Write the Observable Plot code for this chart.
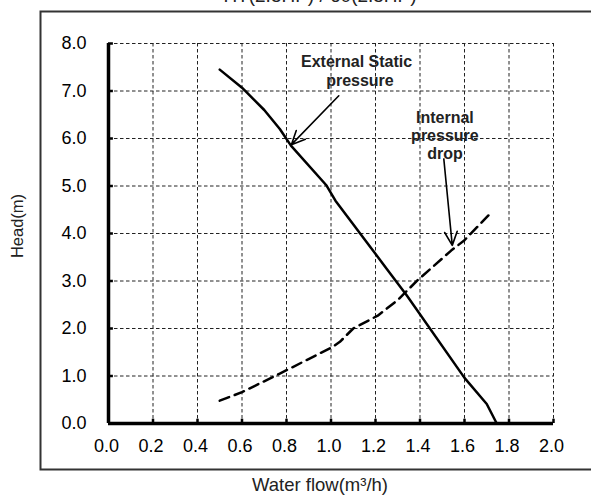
<!DOCTYPE html>
<html>
<head>
<meta charset="utf-8">
<script src="https://cdn.jsdelivr.net/npm/d3@7"></script>
<script src="https://cdn.jsdelivr.net/npm/@observablehq/plot@0.6"></script>
<style>
  html, body { margin: 0; padding: 0; background: #fff; }
  #chart svg { display: block; overflow: visible; }
</style>
</head>
<body>
<div id="chart"></div>
<script>
const title = "HT(2.5HP) / 60(2.5HP)";
const xLabel = "Water flow(m³/h)";
const yLabel = "Head(m)";

const xTicks = [0.0, 0.2, 0.4, 0.6, 0.8, 1.0, 1.2, 1.4, 1.6, 1.8, 2.0];
const yTicks = [0, 1, 2, 3, 4, 5, 6, 7, 8];

// External static pressure (solid)
const extFlow = [0.50, 0.60, 0.70, 0.77, 0.82, 0.98, 1.02, 1.25, 1.34, 1.60, 1.70, 1.745];
const extHead = [7.45, 7.07, 6.60, 6.20, 5.85, 5.01, 4.69, 3.26, 2.70, 0.96, 0.41, 0.00];

// Internal pressure drop (dashed)
const intFlow = [0.50, 0.60, 0.77, 1.01, 1.04, 1.10, 1.21, 1.30, 1.39, 1.54, 1.60, 1.72];
const intHead = [0.48, 0.66, 1.05, 1.62, 1.72, 2.00, 2.27, 2.60, 3.02, 3.64, 3.86, 4.44];

// annotations
const labelText = ["External Static", "pressure", "Internal", "pressure", "drop"];
const labelX = [1.115, 1.13, 1.512, 1.512, 1.512];
const labelY = [7.61, 7.21, 6.44, 6.05, 5.67];
const arrowFrom = [[1.035, 6.90], [1.507, 5.57]];
const arrowTo = [[0.822, 5.87], [1.545, 3.75]];

const ext = extFlow.map((x, i) => ({x, y: extHead[i]}));
const int = intFlow.map((x, i) => ({x, y: intHead[i]}));
const labels = labelText.map((t, i) => ({t, x: labelX[i], y: labelY[i]}));
const arrows = arrowFrom.map((f, i) => ({x1: f[0], y1: f[1], x2: arrowTo[i][0], y2: arrowTo[i][1]}));

const font = "Liberation Sans, Arial, Helvetica, sans-serif";

const plot = Plot.plot({
  width: 591,
  height: 497,
  marginLeft: 108,
  marginRight: 38,
  marginTop: 43,
  marginBottom: 74,
  style: {fontFamily: font, fontSize: "18px", color: "#000", background: "transparent"},
  x: {domain: [0, 2], ticks: xTicks},
  y: {domain: [0, 8], ticks: yTicks},
  marks: [
    Plot.gridX(xTicks, {stroke: "#222", strokeOpacity: 1, strokeWidth: 1, strokeDasharray: "3.5,2.5"}),
    Plot.gridY(yTicks, {stroke: "#222", strokeOpacity: 1, strokeWidth: 1, strokeDasharray: "3.5,2.5"}),
    Plot.axisX(xTicks, {tickSize: 0, tickPadding: 16, tickFormat: d => d.toFixed(1), fontSize: 18, dx: -2, label: null}),
    Plot.axisY(yTicks, {tickSize: 0, tickPadding: 22, tickFormat: d => d.toFixed(1), fontSize: 18, label: null}),
    Plot.ruleY(yTicks, {y: d => d, x1: 0, x2: 0.022, stroke: "#000", strokeWidth: 2.5}),
    Plot.ruleX(xTicks, {x: d => d, y1: 0, y2: 0.09, stroke: "#000", strokeWidth: 2.5}),
    Plot.ruleX([0], {y1: 0, y2: 8, stroke: "#000", strokeWidth: 3.5}),
    Plot.ruleY([0], {x1: 0, x2: 2, stroke: "#000", strokeWidth: 3.5}),
    Plot.line(ext, {x: "x", y: "y", stroke: "#000", strokeWidth: 2.5}),
    Plot.line(int, {x: "x", y: "y", stroke: "#000", strokeWidth: 2.5, strokeDasharray: "10,6"}),
    Plot.text(labels, {x: "x", y: "y", text: "t", fontWeight: "bold", fontSize: 16, fill: "#222"}),
    Plot.arrow(arrows, {x1: "x1", y1: "y1", x2: "x2", y2: "y2", stroke: "#000", strokeWidth: 1.6, headLength: 14, headAngle: 50})
  ]
});

const svg = d3.select(plot);
// outer frame (top, left, bottom borders; right edge runs off the picture)
svg.append("path")
  .attr("d", "M600,11.5H40.5V469.5H600")
  .attr("fill", "none").attr("stroke", "#333").attr("stroke-width", 2);
svg.append("text")
  .attr("x", 320).attr("y", 2)
  .attr("text-anchor", "middle")
  .attr("font-family", font).attr("font-size", 19).attr("fill", "#222")
  .text(title);
svg.append("text")
  .attr("x", 320).attr("y", 491)
  .attr("text-anchor", "middle")
  .attr("font-family", font).attr("font-size", 18.5).attr("fill", "#222")
  .text(xLabel);
svg.append("text")
  .attr("transform", "translate(23,226) rotate(-90)")
  .attr("text-anchor", "middle")
  .attr("font-family", font).attr("font-size", 16.5).attr("fill", "#222")
  .text(yLabel);

document.getElementById("chart").appendChild(plot);
</script>
</body>
</html>
